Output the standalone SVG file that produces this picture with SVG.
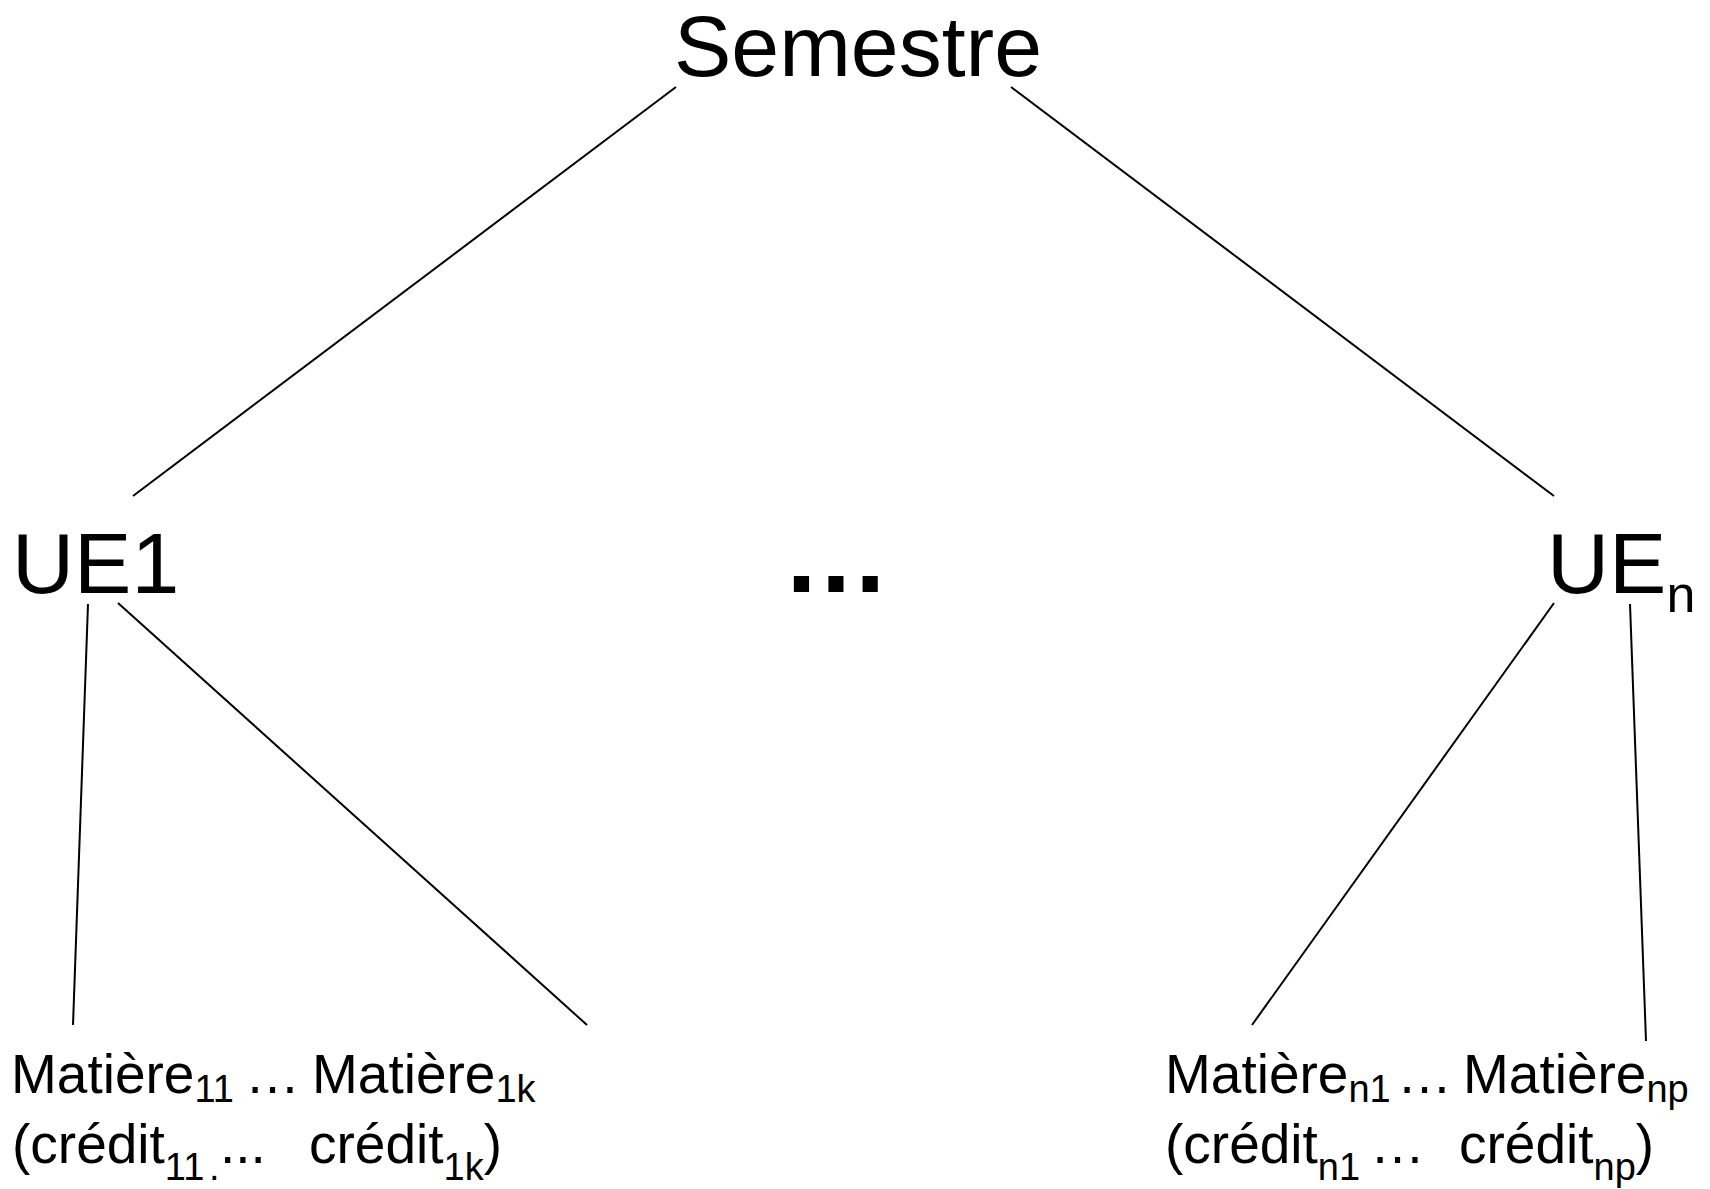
<svg xmlns="http://www.w3.org/2000/svg" width="1710" height="1189" viewBox="0 0 1710 1189">
<style>
text{font-family:"Liberation Sans",Arial,sans-serif;fill:#000}
.big{font-size:86px}
.sm{font-size:55px}
.sub{font-size:38px}
.edge{stroke:#000;stroke-width:2;fill:none}
</style>
<rect width="1710" height="1189" fill="#fff"/>
<g id="connectors">
<line class="edge" x1="676" y1="87" x2="133" y2="496"/>
<line class="edge" x1="1011" y1="87" x2="1554" y2="496"/>
<line class="edge" x1="88" y1="604" x2="73" y2="1025"/>
<line class="edge" x1="118" y1="603" x2="587" y2="1025"/>
<line class="edge" x1="1554" y1="603" x2="1252" y2="1025"/>
<line class="edge" x1="1630" y1="604" x2="1646" y2="1041"/>
</g>
<g id="semestre"><text class="big" x="674" y="76">Semestre</text></g>
<g id="ue1"><text class="big" x="12" y="593">UE1</text></g>
<g id="ellipsis"><text x="782" y="592" style="font-size:108px;font-weight:bold">…</text></g>
<g id="uen"><text class="big" x="1547" y="593">UE<tspan style="font-size:52px" dy="19">n</tspan></text></g>
<g id="matieres-1">
<text class="sm" y="1093"><tspan x="11">Matière</tspan><tspan class="sub" y="1102">11</tspan><tspan x="245" y="1093">…</tspan><tspan x="312">Matière</tspan><tspan class="sub" y="1102">1k</tspan></text>
<text class="sm" y="1163"><tspan x="12">(crédit</tspan><tspan class="sub" y="1180">11</tspan><tspan class="sub" x="209" y="1180">.</tspan><tspan x="220" y="1163">...</tspan><tspan x="309">crédit</tspan><tspan class="sub" y="1180">1k</tspan><tspan y="1163">)</tspan></text>
</g>
<g id="matieres-n">
<text class="sm" y="1093"><tspan x="1165">Matière</tspan><tspan class="sub" y="1102">n1</tspan><tspan x="1397" y="1093">…</tspan><tspan x="1463">Matière</tspan><tspan class="sub" y="1102">np</tspan></text>
<text class="sm" y="1163"><tspan x="1165">(crédit</tspan><tspan class="sub" y="1180">n1</tspan><tspan x="1370" y="1163">…</tspan><tspan x="1459">crédit</tspan><tspan class="sub" y="1180">np</tspan><tspan y="1163">)</tspan></text>
</g>
</svg>
